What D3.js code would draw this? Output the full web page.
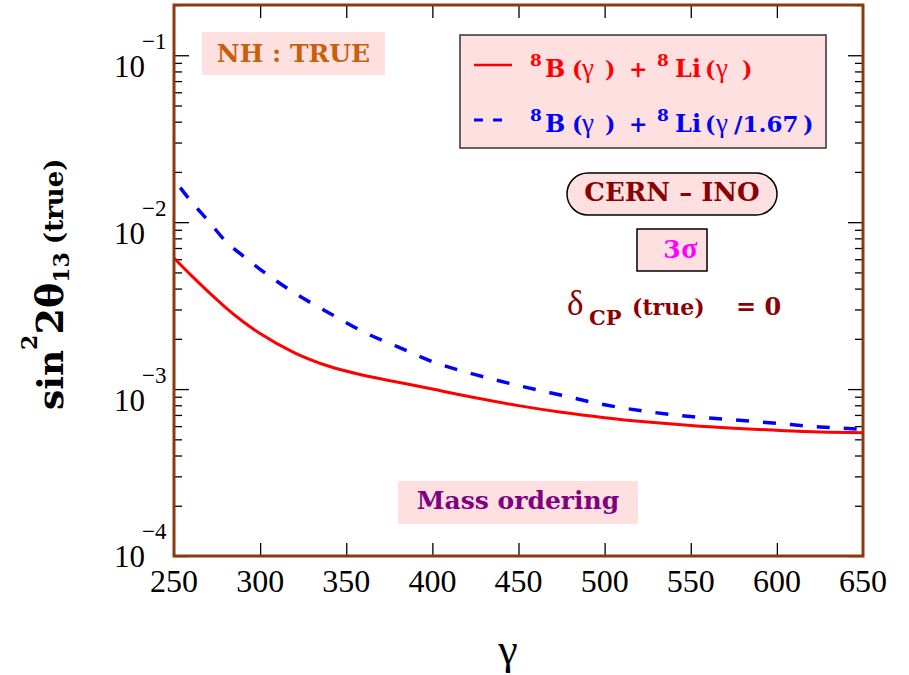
<!DOCTYPE html>
<html lang="en">
<head>
<meta charset="UTF-8">
<title>sin22theta13 sensitivity vs gamma</title>
<script src="https://d3js.org/d3.v7.min.js"></script>
<style>
  body { margin: 0; background: #fff; }
  svg text { font-family: "DejaVu Serif", serif; }
  svg text.times, svg tspan.times {
      font-family: "Liberation Serif", "Tinos", "Times New Roman", "Nimbus Roman", "FreeSerif", "DejaVu Serif Condensed", "DejaVu Serif";
  }
</style>
</head>
<body>
<svg id="chart" width="909" height="675"></svg>
<script>
// boost factor gamma and the 3 sigma sin^2 2theta13 reach for the two set-ups
const gammaValues = [250, 260, 270, 280, 290, 300, 320, 340, 360, 380, 400, 425, 450, 475, 500, 525, 550, 575, 600, 625, 650];
const sameGamma   = [6.1e-3, 4.8e-3, 3.82e-3, 3.08e-3, 2.54e-3, 2.15e-3, 1.65e-3, 1.37e-3, 1.21e-3, 1.10e-3, 1.0e-3,
                     8.87e-4, 7.96e-4, 7.26e-4, 6.74e-4, 6.35e-4, 6.05e-4, 5.83e-4, 5.66e-4, 5.53e-4, 5.48e-4];
const scaledGamma = [1.8e-2, 1.33e-2, 1.016e-2, 7.69e-3, 6.28e-3, 5.22e-3, 3.76e-3, 2.86e-3, 2.20e-3, 1.79e-3, 1.46e-3,
                     1.22e-3, 1.05e-3, 9.18e-4, 8.05e-4, 7.33e-4, 6.84e-4, 6.55e-4, 6.23e-4, 5.93e-4, 5.75e-4];

const xTicks = [250, 300, 350, 400, 450, 500, 550, 600, 650];
const yMajor = [1e-4, 1e-3, 1e-2, 1e-1];
const yExponents = ["\u22124", "\u22123", "\u22122", "\u22121"];

const plotLeft = 174, plotRight = 863, plotTop = 5, plotBottom = 556;

const svg = d3.select("#chart");

const x = d3.scaleLinear().domain([250, 650]).range([plotLeft, plotRight]);
const y = d3.scaleLog().domain([1e-4, 0.2]).range([plotBottom, plotTop]);

// minor ticks 2..9 inside each decade
const yMinor = [];
yMajor.forEach(d => {
    for (let k = 2; k <= 9; k++) {
        const v = k * d;
        if (v <= 0.2) yMinor.push(v);
    }
});

// ---- ticks (all pointing inward) ----
function tickLayer(axis, tx, ty) {
    const g = svg.append("g")
        .attr("transform", `translate(${tx},${ty})`)
        .call(axis);
    g.select(".domain").remove();
    g.selectAll(".tick line").attr("stroke", "#000").attr("stroke-width", 1.3);
    g.selectAll(".tick text").remove();
    return g;
}
const inner = xTicks.slice(1, -1);
tickLayer(d3.axisBottom(x).tickValues(inner).tickSize(-13).tickFormat(""), 0, plotBottom);
tickLayer(d3.axisTop(x).tickValues(inner).tickSize(-13).tickFormat(""), 0, plotTop);
tickLayer(d3.axisLeft(y).tickValues(yMajor).tickSize(-15).tickFormat(""), plotLeft, 0);
tickLayer(d3.axisLeft(y).tickValues(yMinor).tickSize(-8).tickFormat(""), plotLeft, 0);
tickLayer(d3.axisRight(y).tickValues(yMajor).tickSize(-15).tickFormat(""), plotRight, 0);
tickLayer(d3.axisRight(y).tickValues(yMinor).tickSize(-8).tickFormat(""), plotRight, 0);

// x tick labels
svg.append("g").selectAll("text")
    .data(xTicks)
    .join("text")
    .attr("class", "times")
    .attr("x", d => x(d))
    .attr("y", 592)
    .attr("text-anchor", "middle")
    .style("font-size", "32px")
    .text(d => d);

// y tick labels: 10 with exponent
const yLab = svg.append("g").selectAll("g")
    .data(yMajor)
    .join("g")
    .attr("transform", (d, i) => `translate(0,${y(d) + (i === 0 ? -11 : 0)})`);
yLab.append("text")
    .attr("class", "times")
    .attr("x", 145).attr("y", 22)
    .attr("text-anchor", "end")
    .style("font-size", "31px")
    .text("10");
yLab.append("text")
    .attr("class", "times")
    .attr("x", 142).attr("y", -6)
    .style("font-size", "23px")
    .text((d, i) => yExponents[i]);

// ---- curves ----
const line = d3.line()
    .x(d => x(d[0]))
    .y(d => y(d[1]))
    .curve(d3.curveMonotoneX);

svg.append("path")
    .datum(gammaValues.map((g, i) => [g, sameGamma[i]]))
    .attr("d", line)
    .attr("fill", "none")
    .attr("stroke", "#ff0000")
    .attr("stroke-width", 3);

svg.append("path")
    .datum(gammaValues.map((g, i) => [g, scaledGamma[i]]))
    .attr("d", line)
    .attr("fill", "none")
    .attr("stroke", "#0000ff")
    .attr("stroke-width", 3.5)
    .attr("stroke-dasharray", "13,14")
    .attr("stroke-dashoffset", 17);

// frame
svg.append("rect")
    .attr("x", plotLeft).attr("y", plotTop)
    .attr("width", plotRight - plotLeft).attr("height", plotBottom - plotTop)
    .attr("fill", "none")
    .attr("stroke", "#8b3a10")
    .attr("stroke-width", 3);

// ---- text helper: pieces may carry an absolute x ----
function rich(x0, y0, parts, color, anchor) {
    const t = svg.append("text")
        .attr("x", x0).attr("y", y0)
        .attr("fill", color)
        .attr("text-anchor", anchor || "start")
        .attr("xml:space", "preserve");
    parts.forEach(p => {
        const s = t.append("tspan")
            .attr("class", p.times ? "times" : null)
            .attr("y", y0 + (p.shift || 0))
            .attr("dx", p.dx || 0)
            .style("font-size", (p.size || 24) + "px")
            .style("font-weight", p.weight || "bold")
            .text(p.t);
        if (p.x !== undefined) s.attr("x", p.x);
    });
    return t;
}

const pink = "#ffe0e0";

// NH : TRUE
svg.append("rect").attr("x", 202).attr("y", 32).attr("width", 183).attr("height", 43).attr("fill", pink);
rich(293.5, 62, [{ t: "NH : TRUE", size: 25 }], "#c8600a", "middle");

// Mass ordering
svg.append("rect").attr("x", 398).attr("y", 481).attr("width", 240).attr("height", 43).attr("fill", pink);
rich(518, 509, [{ t: "Mass ordering", size: 25 }], "#800080", "middle");

// legend
svg.append("rect").attr("x", 460).attr("y", 35).attr("width", 366).attr("height", 113)
    .attr("fill", pink).attr("stroke", "#333").attr("stroke-width", 1.5);
svg.append("line").attr("x1", 474).attr("x2", 512).attr("y1", 65).attr("y2", 65)
    .attr("stroke", "#ff0000").attr("stroke-width", 2.5);
svg.append("line").attr("x1", 474).attr("x2", 503).attr("y1", 120).attr("y2", 120)
    .attr("stroke", "#0000ff").attr("stroke-width", 3).attr("stroke-dasharray", "9,10");

const legendLabels = [
    { y: 77, color: "#ff0000", tail: [{ t: ")", x: 742 }] },
    { y: 132, color: "#0000ff", tail: [{ t: "/1.67", x: 734, size: 23 }, { t: ")", x: 803 }] }
];
legendLabels.forEach(l => {
    rich(531, l.y, [
        { t: "8", size: 17, shift: -11, x: 530 },
        { t: "B", size: 24, x: 545 },
        { t: "(", size: 22, x: 572 },
        { t: "\u03b3", size: 27, weight: "normal", times: true, x: 582 },
        { t: ")", size: 22, x: 605 },
        { t: "+", size: 22, x: 629 },
        { t: "8", size: 17, shift: -11, x: 657 },
        { t: "Li", size: 24, x: 675 },
        { t: "(", size: 22, x: 705 },
        { t: "\u03b3", size: 27, weight: "normal", times: true, x: 716 }
    ].concat(l.tail.map(p => Object.assign({ size: 22 }, p))), l.color);
});

// CERN - INO
svg.append("rect").attr("x", 567).attr("y", 173).attr("width", 210).attr("height", 42)
    .attr("rx", 21).attr("fill", pink).attr("stroke", "#000").attr("stroke-width", 1.5);
rich(672, 201, [{ t: "CERN \u2013 INO", size: 26 }], "#8b0000", "middle");

// 3 sigma
svg.append("rect").attr("x", 637).attr("y", 229).attr("width", 70).attr("height", 42)
    .attr("fill", pink).attr("stroke", "#000").attr("stroke-width", 1.5);
rich(672, 258, [{ t: "3", size: 25 }, { t: "\u03c3", size: 30, times: true }], "#ff00ff", "middle");

// delta CP
rich(567, 315, [
    { t: "\u03b4", size: 35, weight: "normal", times: true },
    { t: "CP", size: 21, shift: 10, x: 589 },
    { t: "(true)", size: 22, x: 632 },
    { t: "= 0", size: 24, x: 736 }
], "#8b0000");

// axis titles
svg.append("text")
    .attr("class", "times")
    .attr("x", 508).attr("y", 664)
    .attr("text-anchor", "middle")
    .style("font-size", "44px")
    .text("\u03b3");

const yTitle = svg.append("text")
    .attr("transform", "translate(63,410) rotate(-90)")
    .attr("fill", "#000")
    .style("font-weight", "bold");
yTitle.append("tspan").style("font-size", "36px").text("sin");
yTitle.append("tspan").attr("y", -26).style("font-size", "22px").text("2");
yTitle.append("tspan").attr("y", 0).style("font-size", "38px").text("2\u03b8");
yTitle.append("tspan").attr("y", 6).style("font-size", "22px").text("13");
yTitle.append("tspan").attr("y", 0).attr("dx", 8).style("font-size", "26px").text("(true)");
</script>
</body>
</html>
